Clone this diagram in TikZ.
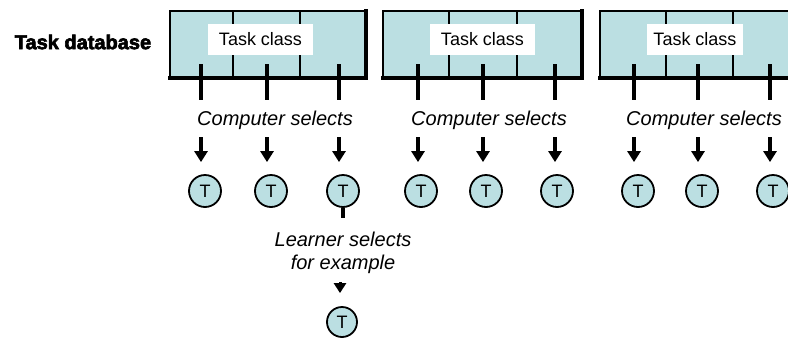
\documentclass[tikz,border=0pt]{standalone}
\usepackage{fontspec}
\setmainfont{Liberation Sans}
\newfontfamily\heavyfont[FakeBold=3]{Liberation Sans}
\usetikzlibrary{arrows.meta,calc}
\definecolor{cellfill}{RGB}{187,223,226}

\begin{document}
\begin{tikzpicture}[x=1pt,y=-1pt,
  classbox/.style={draw=black, line width=1.3pt, fill=cellfill, minimum height=67pt,
    inner sep=0pt, outer sep=0pt},
  divider/.style={line width=1.3pt},
  shadowedge/.style={line width=3.4pt, line cap=rect},
  labelbox/.style={fill=white, minimum width=105pt, minimum height=31pt, inner sep=0pt,
    font=\fontsize{18}{20}\selectfont},
  stem/.style={line width=4pt},
  pick/.style={line width=4pt, -{Triangle[width=13pt,length=11pt]}, shorten >=12pt},
  tcirc/.style={circle, draw=black, line width=1.8pt, fill=cellfill, minimum size=32pt,
    inner sep=0pt, font=\fontsize{18}{20}\selectfont},
  caption/.style={font=\fontsize{20}{23}\selectfont\itshape, align=center, inner sep=0pt}
]
\useasboundingbox (0,0) rectangle (788,338);
\clip (0,0) rectangle (788,338);

\node[font=\fontsize{20}{22}\selectfont\heavyfont\bfseries, inner sep=0pt] (dbtitle) at (83,42) {Task database};

% ---- task class 1 ----
\node[classbox, minimum width=196pt] (box1) at (268,44.5) {};
\draw[divider] (233,11) -- (233,78) (300,11) -- (300,78);
\draw[shadowedge] (box1.north east) -- (box1.south east) -- (box1.south west);
\node[labelbox] (lab1) at (260.5,39.5) {Task class};

% ---- task class 2 ----
\node[classbox, minimum width=199pt] (box2) at (482.5,44.5) {};
\draw[divider] (449,11) -- (449,78) (517,11) -- (517,78);
\draw[shadowedge] (box2.north east) -- (box2.south east) -- (box2.south west);
\node[labelbox] (lab2) at (482.5,39.5) {Task class};

% ---- task class 3 ----
\node[classbox, minimum width=198pt] (box3) at (699,44.5) {};
\draw[divider] (666,11) -- (666,78) (733,11) -- (733,78);
\draw[shadowedge] (box3.north east) -- (box3.south east) -- (box3.south west);
\node[labelbox, minimum width=96pt] (lab3) at (695,39.5) {Task class};

% stems leaving the task classes
\foreach \n/\x in {11/201,12/267,13/339,21/418,22/483,23/555,31/634,32/698,33/770}{
  \coordinate (s\n) at (\x,64);
  \coordinate (e\n) at (\x,100);
  \draw[stem] (s\n) -- (e\n);
}

% captions
\node[caption] (cap1) at (275,120) {Computer selects};
\node[caption] (cap2) at (489,120) {Computer selects};
\node[caption] (cap3) at (704,120) {Computer selects};

% selected tasks
\foreach \n/\x/\c in {11/201/205,12/267/271,13/339/343,21/418/421,22/483/486,23/555/557,31/634/638,32/698/702,33/770/773}{
  \coordinate (a\n) at (\x,137);
  \node[tcirc] (t\n) at (\c,191) {T};
  \draw[pick] (a\n) -- (a\n |- t\n.north);
}

% learner choice
\coordinate (l1) at (343,218);
\draw[stem] (t13.south) -- (l1);
\node[caption] (learn) at (343,253) {Learner selects\\for example};
\coordinate (la) at (340,282);
\node[tcirc, minimum size=30pt] (tl) at (342,322) {T};
\draw[line width=3pt, -{Triangle[width=12pt,length=10pt]}, shorten >=13pt] (la) -- (la |- tl.north);
\end{tikzpicture}
\end{document}
